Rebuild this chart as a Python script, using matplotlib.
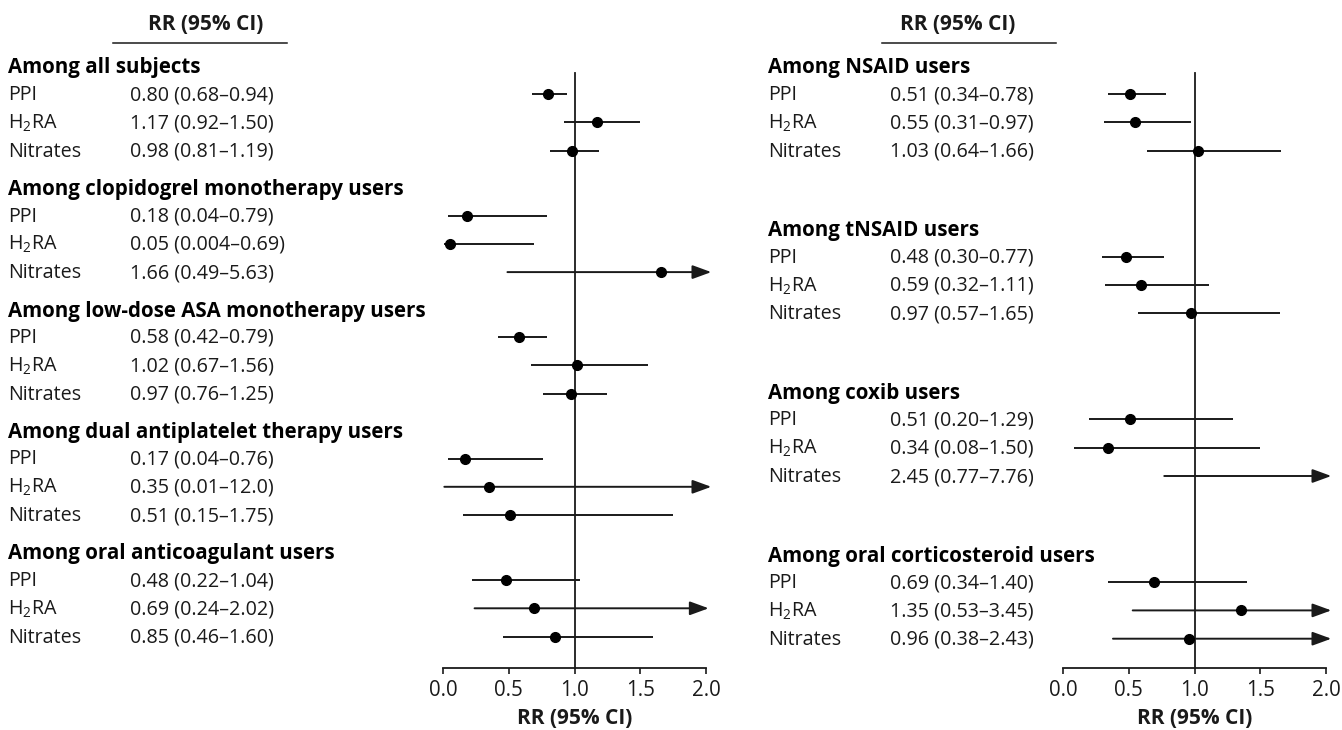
import matplotlib
matplotlib.use("Agg")
import matplotlib.pyplot as plt

plt.rcParams['font.family'] = ['Open Sans', 'DejaVu Sans']
plt.rcParams['mathtext.fontset'] = 'custom'
plt.rcParams['mathtext.rm'] = 'Open Sans'
plt.rcParams['mathtext.it'] = 'Open Sans:italic'
plt.rcParams['mathtext.bf'] = 'Open Sans:bold'

# ---------------- data ----------------
drugs = ["PPI", "H$_{\\mathrm{2}}$RA", "Nitrates"]

left_groups = ["Among all subjects",
               "Among clopidogrel monotherapy users",
               "Among low-dose ASA monotherapy users",
               "Among dual antiplatelet therapy users",
               "Among oral anticoagulant users"]
left_est = [[0.80, 1.17, 0.98], [0.18, 0.05, 1.66], [0.58, 1.02, 0.97],
            [0.17, 0.35, 0.51], [0.48, 0.69, 0.85]]
left_lo = [[0.68, 0.92, 0.81], [0.04, 0.004, 0.49], [0.42, 0.67, 0.76],
           [0.04, 0.01, 0.15], [0.22, 0.24, 0.46]]
left_hi = [[0.94, 1.50, 1.19], [0.79, 0.69, 5.63], [0.79, 1.56, 1.25],
           [0.76, 12.0, 1.75], [1.04, 2.02, 1.60]]
left_text = [["0.80 (0.68–0.94)", "1.17 (0.92–1.50)", "0.98 (0.81–1.19)"],
             ["0.18 (0.04–0.79)", "0.05 (0.004–0.69)", "1.66 (0.49–5.63)"],
             ["0.58 (0.42–0.79)", "1.02 (0.67–1.56)", "0.97 (0.76–1.25)"],
             ["0.17 (0.04–0.76)", "0.35 (0.01–12.0)", "0.51 (0.15–1.75)"],
             ["0.48 (0.22–1.04)", "0.69 (0.24–2.02)", "0.85 (0.46–1.60)"]]

right_groups = ["Among NSAID users",
                "Among tNSAID users",
                "Among coxib users",
                "Among oral corticosteroid users"]
right_est = [[0.51, 0.55, 1.03], [0.48, 0.59, 0.97], [0.51, 0.34, 2.45],
             [0.69, 1.35, 0.96]]
right_lo = [[0.34, 0.31, 0.64], [0.30, 0.32, 0.57], [0.20, 0.08, 0.77],
            [0.34, 0.53, 0.38]]
right_hi = [[0.78, 0.97, 1.66], [0.77, 1.11, 1.65], [1.29, 1.50, 7.76],
            [1.40, 3.45, 2.43]]
right_text = [["0.51 (0.34–0.78)", "0.55 (0.31–0.97)", "1.03 (0.64–1.66)"],
              ["0.48 (0.30–0.77)", "0.59 (0.32–1.11)", "0.97 (0.57–1.65)"],
              ["0.51 (0.20–1.29)", "0.34 (0.08–1.50)", "2.45 (0.77–7.76)"],
              ["0.69 (0.34–1.40)", "1.35 (0.53–3.45)", "0.96 (0.38–2.43)"]]

xticks = [0.0, 0.5, 1.0, 1.5, 2.0]
xticklabels = ["0.0", "0.5", "1.0", "1.5", "2.0"]
axis_label = "RR (95% CI)"

# ---------------- layout (pixels) ----------------
W, H = 1342, 730
fig = plt.figure(figsize=(W / 100, H / 100), dpi=100)
txt = fig.add_axes([0, 0, 1, 1])
txt.set_xlim(0, W)
txt.set_ylim(H, 0)
txt.axis('off')

FS = 14.2
INK = '#1a1a1a'
AX_TOP, AX_BOT = 60, 668


def panel(x_lab, x_val, x0, x1, groups, est, lo, hi, texts,
          first_header, group_step, hdr_center, ul):
    ax = fig.add_axes([x0 / W, 1 - AX_BOT / H, (x1 - x0) / W, (AX_BOT - AX_TOP) / H])
    ax.set_xlim(0, 2)
    ax.set_ylim(AX_BOT, AX_TOP)
    ax.patch.set_alpha(0)
    for s in ['top', 'right', 'left']:
        ax.spines[s].set_visible(False)
    ax.spines['bottom'].set_linewidth(1.3)
    ax.spines['bottom'].set_color(INK)
    ax.set_yticks([])
    ax.set_xticks(xticks)
    ax.set_xticklabels(xticklabels, fontsize=FS + 0.6, color=INK)
    ax.tick_params(axis='x', length=4, width=1.2, color=INK, pad=5)
    ax.set_xlabel(axis_label, fontsize=FS + 0.8, fontweight='bold', color=INK)
    ax.xaxis.set_label_coords(0.5, -0.065)
    ax.plot([1, 1], [73, AX_BOT], color=INK, lw=1.3, clip_on=False)

    # header
    txt.text(hdr_center, 25, axis_label, fontsize=FS + 0.8, fontweight='bold',
             ha='center', va='center', color=INK)
    txt.plot(ul, [43, 43], color=INK, lw=1.1)

    for g, name in enumerate(groups):
        yh = first_header + group_step * g
        txt.text(x_lab, yh + 1, name, fontsize=FS + 0.6, fontweight='bold',
                 ha='left', va='center', color='black')
        for i in range(3):
            y = yh + 27 + 28.3 * i
            txt.text(x_lab, y + 1, drugs[i], fontsize=FS, ha='left', va='center', color=INK)
            txt.text(x_val, y + 1, texts[g][i], fontsize=FS, ha='left', va='center', color=INK)
            e, l, h = est[g][i], lo[g][i], hi[g][i]
            if h > 2.0:
                ax.annotate('', xy=(min(h, 2.04), y), xytext=(l, y),
                            annotation_clip=False,
                            arrowprops=dict(arrowstyle='-|>,head_length=1.15,head_width=0.42',
                                            color=INK, lw=1.4, shrinkA=0, shrinkB=0,
                                            mutation_scale=10))
            else:
                ax.plot([l, h], [y, y], color=INK, lw=1.4, clip_on=False,
                        solid_capstyle='butt')
            if 0 <= e <= 2.0:
                ax.plot([e], [y], 'o', color='black', ms=7, clip_on=False, zorder=5)
    return ax


panel(8, 130, 443, 706, left_groups, left_est, left_lo, left_hi, left_text,
      67, 121.5, 206, [113, 287])
panel(768, 890, 1063, 1326, right_groups, right_est, right_lo, right_hi, right_text,
      67, 162.7, 958, [882, 1056])

fig.savefig('out.png', dpi=100)
